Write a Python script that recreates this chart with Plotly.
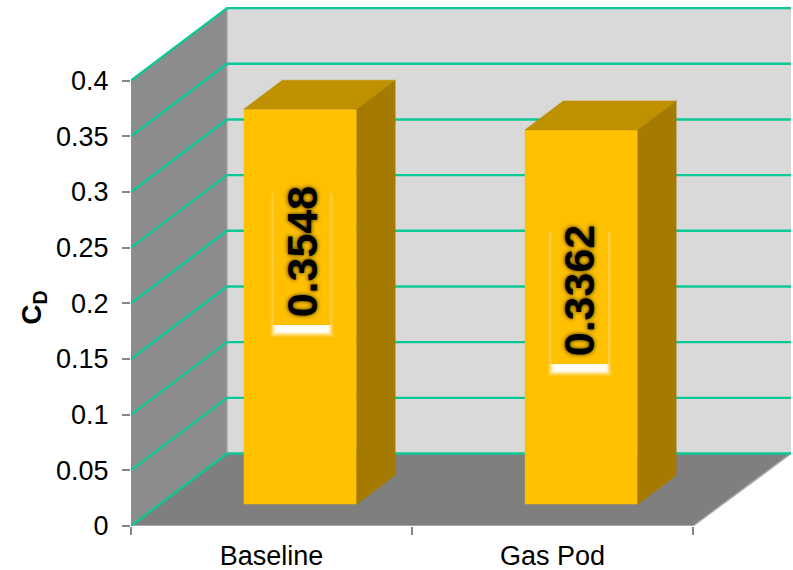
import plotly.graph_objects as go

# Chart data
categories = ["Baseline", "Gas Pod"]
drag_coefficients = [0.3548, 0.3362]
value_ticks = [0, 0.05, 0.1, 0.15, 0.2, 0.25, 0.3, 0.35, 0.4]
value_tick_labels = ["0", "0.05", "0.1", "0.15", "0.2", "0.25", "0.3", "0.35", "0.4"]

# Placement of the data labels along each bar, in axis units
label_heights = [0.2465, 0.2115]
label_sides = [0.608, 1.597]

# Oblique projection of the box: how far the back wall sits from the front plane
PX_PER_X = 281.0
PX_PER_Y = 1113.5
DEPTH_X = 96 / PX_PER_X
DEPTH_Y = 72.5 / PX_PER_Y
Y_MAX = 0.4

# Bars stand part-way into the box and occupy part of its depth
BAR_WIDTH = 113 / PX_PER_X
BAR_FRONT = 0.30
BAR_DEPTH = 0.40

GRID = "#0cc896"
EDGE = "#a6a6a6"
TICK = "#868686"
FRONT = "#ffc000"
TOP = "#bf9000"
SIDE = "#a47b00"


def path(points):
    return "M " + " L ".join(f"{x},{y}" for x, y in points)


def polygon(points, color, line=None, width=0):
    return dict(type="path", path=path(points) + " Z", fillcolor=color, layer="below",
                line=dict(color=line or color, width=width), xref="x", yref="y")


def face(points, color, edge=0.5):
    xs, ys = zip(*(points + [points[0]]))
    return go.Scatter(x=xs, y=ys, mode="lines", fill="toself", fillcolor=color,
                      line=dict(color=color, width=edge), hoverinfo="skip", showlegend=False)


def box(left, right_edge, low, high):
    return [(left, low), (right_edge, low), (right_edge, high), (left, high)]


right = 2.0
back_right = right + 98 / PX_PER_X
shapes = [
    # Side wall, back wall and floor
    polygon([(0, 0), (DEPTH_X, DEPTH_Y), (DEPTH_X, Y_MAX + DEPTH_Y), (0, Y_MAX)], "#8c8c8c"),
    polygon([(DEPTH_X, DEPTH_Y), (back_right, DEPTH_Y), (back_right, Y_MAX + DEPTH_Y),
             (DEPTH_X, Y_MAX + DEPTH_Y)], "#d9d9d9"),
    polygon([(0, 0), (right, 0), (back_right, DEPTH_Y), (DEPTH_X, DEPTH_Y)], "#7f7f7f"),
    dict(type="line", x0=DEPTH_X, x1=DEPTH_X, y0=DEPTH_Y, y1=Y_MAX + DEPTH_Y, layer="below",
         line=dict(color=EDGE, width=1.5), xref="x", yref="y"),
    dict(type="line", x0=right, x1=back_right, y0=0, y1=DEPTH_Y, layer="below",
         line=dict(color=EDGE, width=1.5), xref="x", yref="y"),
    dict(type="line", x0=0, x1=right, y0=0, y1=0, layer="below",
         line=dict(color=EDGE, width=2), xref="x", yref="y"),
]
# Gridlines run along the side wall and then across the back wall
for tick in value_ticks:
    shapes.append(dict(
        type="path", layer="below", xref="x", yref="y",
        path=path([(0, tick), (DEPTH_X, tick + DEPTH_Y), (back_right, tick + DEPTH_Y)]),
        line=dict(color=GRID, width=2.4),
    ))

fig = go.Figure()

bar_base = BAR_FRONT * DEPTH_Y
bar_shift = BAR_FRONT * DEPTH_X
centres = [i + 0.5 for i in range(len(categories))]

fig.add_trace(go.Bar(
    x=centres,
    y=drag_coefficients,
    base=bar_base,
    width=BAR_WIDTH,
    offset=bar_shift - BAR_WIDTH / 2,
    marker=dict(color=FRONT, line=dict(width=0)),
    hoverinfo="skip",
    showlegend=False,
))

dx = BAR_DEPTH * DEPTH_X
dy = BAR_DEPTH * DEPTH_Y
for centre, value in zip(centres, drag_coefficients):
    x0 = centre + bar_shift - BAR_WIDTH / 2
    x1 = x0 + BAR_WIDTH
    top = bar_base + value
    fig.add_trace(face([(x0, top), (x1, top), (x1 + dx, top + dy), (x0 + dx, top + dy)], TOP))
    fig.add_trace(face([(x1, bar_base), (x1 + dx, bar_base + dy), (x1 + dx, top + dy), (x1, top)], SIDE))

# Soft white glow behind each data label, with the label plate laid over it
HALF_W = 28.5 / PX_PER_X
HALF_H = 69 / PX_PER_Y
PLATE_DROP = 4.5 / PX_PER_Y
HALO_STEPS = [(4, 0.04), (3, 0.06), (2, 0.08), (1, 0.12), (0.5, 0.14)]
BAND_STEPS = [(4, 0.06), (3, 0.1), (2, 0.16), (1, 0.26), (0, 0.4), (-1, 0.55), (-2, 0.7)]
for side, height in zip(label_sides, label_heights):
    cy = height - PLATE_DROP
    low = cy - HALF_H
    high = cy + HALF_H
    # Faint halo down both long edges
    for grow, alpha in HALO_STEPS:
        gx = grow / PX_PER_X
        fig.add_trace(face(box(side - HALF_W - gx, side + HALF_W + gx, low, high - (4 + grow) / PX_PER_Y),
                           f"rgba(255,255,255,{alpha})", edge=0))
    # Bright band under the plate, fading outward
    for grow, alpha in BAND_STEPS:
        gx = grow / PX_PER_X
        gy = (9 + grow) / PX_PER_Y
        fig.add_trace(face(box(side - HALF_W - gx, side + HALF_W + gx, low - gy, low),
                           f"rgba(255,255,255,{alpha})", edge=0))
    fig.add_trace(face(box(side - HALF_W, side + HALF_W, low, high), FRONT, edge=0))

annotations = [
    dict(x=side, y=height, xref="x", yref="y", text=f"{value:.4f}", textangle=-90,
         showarrow=False, xanchor="center", yanchor="middle",
         font=dict(family="Liberation Sans", size=43, color="#000000", weight="bold",
                   shadow="0 0 4px rgba(0,0,0,0.8)"))
    for side, height, value in zip(label_sides, label_heights, drag_coefficients)
]
annotations.append(dict(
    x=(34 - 131) / 662, y=0.196, xref="paper", yref="y", text="<b>C<sub>D</sub></b>", textangle=-90,
    showarrow=False, xanchor="center", yanchor="middle",
    font=dict(family="Liberation Sans", size=28, color="#000000"),
))

fig.update_layout(
    width=793,
    height=570,
    margin=dict(l=131, r=0, t=6, b=44, pad=0),
    paper_bgcolor="#ffffff",
    plot_bgcolor="#ffffff",
    showlegend=False,
    shapes=shapes,
    annotations=annotations,
    font=dict(family="Liberation Sans", size=27, color="#000000"),
    xaxis=dict(
        range=[0, 662 / PX_PER_X],
        automargin=False,
        tickvals=centres,
        ticktext=categories,
        ticks="",
        ticklabelstandoff=11,
        showgrid=False,
        zeroline=False,
        showline=False,
        minor=dict(tickvals=[0, 1, 2], ticks="outside", ticklen=8, tickcolor=TICK, tickwidth=1.5, showgrid=False),
    ),
    yaxis=dict(
        range=[0, 520 / PX_PER_Y],
        automargin=False,
        tickvals=value_ticks,
        ticktext=value_tick_labels,
        ticks="outside",
        ticklen=8,
        tickwidth=1.5,
        tickcolor=TICK,
        ticklabelstandoff=8,
        showgrid=False,
        zeroline=False,
        showline=False,
    ),
)

fig.write_html("out.html")
